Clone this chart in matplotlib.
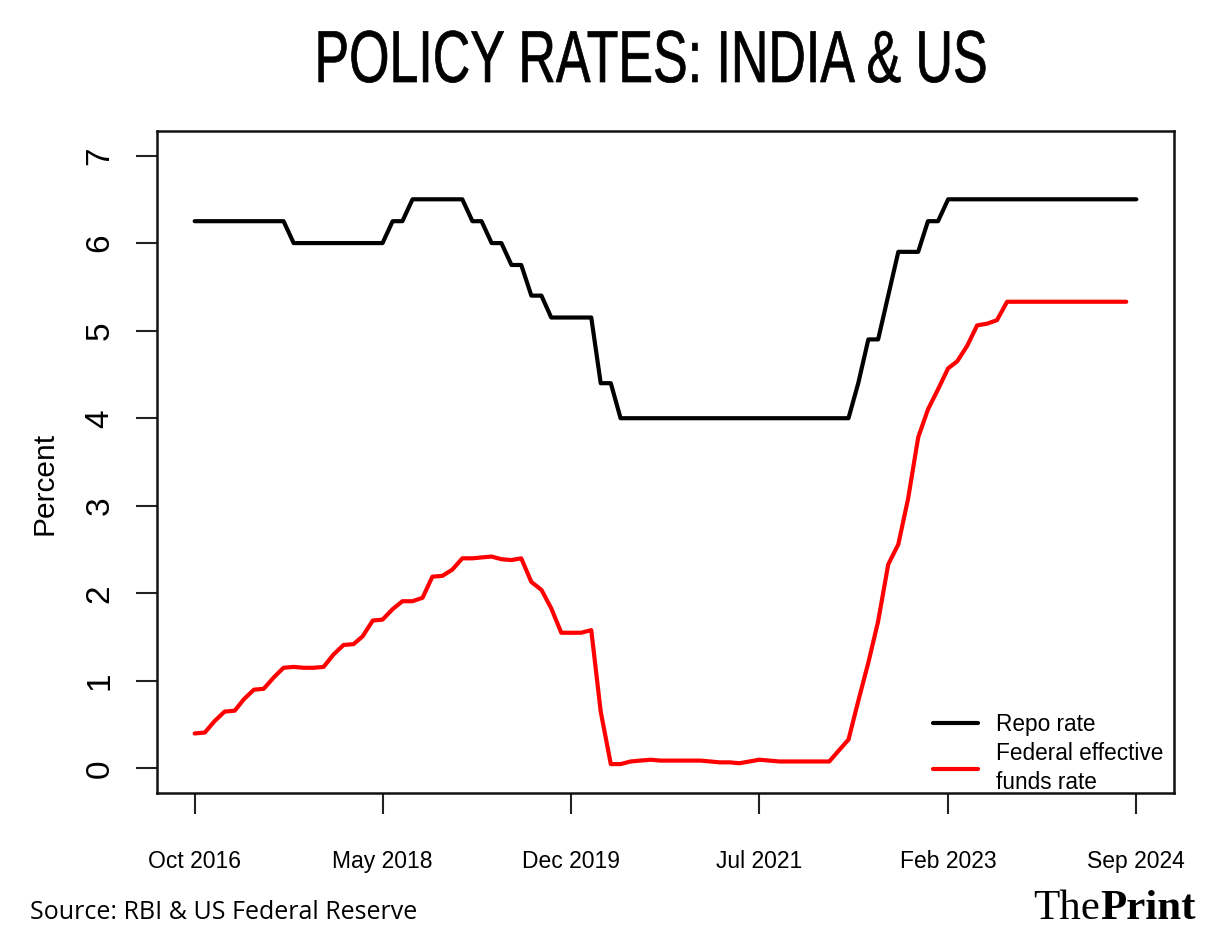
import numpy as np
import pandas as pd
import matplotlib
matplotlib.use("Agg")
import matplotlib.pyplot as plt
import matplotlib.dates as mdates
from matplotlib import font_manager
from matplotlib.patheffects import AbstractPathEffect
from matplotlib.transforms import Affine2D

# monthly values, Oct 2016 .. Sep 2024 (one row per calendar year)
repo_rate = (
    [6.25, 6.25, 6.25]
    + [6.25, 6.25, 6.25, 6.25, 6.25, 6.25, 6.25, 6.00, 6.00, 6.00, 6.00, 6.00]
    + [6.00, 6.00, 6.00, 6.00, 6.00, 6.25, 6.25, 6.50, 6.50, 6.50, 6.50, 6.50]
    + [6.50, 6.25, 6.25, 6.00, 6.00, 5.75, 5.75, 5.40, 5.40, 5.15, 5.15, 5.15]
    + [5.15, 5.15, 4.40, 4.40, 4.00, 4.00, 4.00, 4.00, 4.00, 4.00, 4.00, 4.00]
    + [4.00, 4.00, 4.00, 4.00, 4.00, 4.00, 4.00, 4.00, 4.00, 4.00, 4.00, 4.00]
    + [4.00, 4.00, 4.00, 4.00, 4.40, 4.90, 4.90, 5.40, 5.90, 5.90, 5.90, 6.25]
    + [6.25, 6.50, 6.50, 6.50, 6.50, 6.50, 6.50, 6.50, 6.50, 6.50, 6.50, 6.50]
    + [6.50, 6.50, 6.50, 6.50, 6.50, 6.50, 6.50, 6.50, 6.50]
)

# Oct 2016 .. Aug 2024
fed_rate = (
    [0.40, 0.41, 0.54]
    + [0.65, 0.66, 0.79, 0.90, 0.91, 1.04, 1.15, 1.16, 1.15, 1.15, 1.16, 1.30]
    + [1.41, 1.42, 1.51, 1.69, 1.70, 1.82, 1.91, 1.91, 1.95, 2.19, 2.20, 2.27]
    + [2.40, 2.40, 2.41, 2.42, 2.39, 2.38, 2.40, 2.13, 2.04, 1.83, 1.55, 1.55]
    + [1.55, 1.58, 0.65, 0.05, 0.05, 0.08, 0.09, 0.10, 0.09, 0.09, 0.09, 0.09]
    + [0.09, 0.08, 0.07, 0.07, 0.06, 0.08, 0.10, 0.09, 0.08, 0.08, 0.08, 0.08]
    + [0.08, 0.08, 0.20, 0.33, 0.77, 1.21, 1.68, 2.33, 2.56, 3.08, 3.78, 4.10]
    + [4.33, 4.57, 4.65, 4.83, 5.06, 5.08, 5.12, 5.33, 5.33, 5.33, 5.33, 5.33]
    + [5.33, 5.33, 5.33, 5.33, 5.33, 5.33, 5.33, 5.33]
)

months = pd.date_range("2016-10-01", periods=len(repo_rate), freq="MS")
tick_dates = pd.to_datetime(["2016-10-01", "2018-05-01", "2019-12-01",
                             "2021-07-01", "2023-02-01", "2024-09-01"])
tick_labels = ["Oct 2016", "May 2018", "Dec 2019", "Jul 2021", "Feb 2023", "Sep 2024"]
y_ticks = [0, 1, 2, 3, 4, 5, 6, 7]

series_names = ["Repo rate", "Federal effective\nfunds rate"]
series_colors = ["black", "#ff0000"]


def have_font(name):
    try:
        font_manager.findfont(font_manager.FontProperties(family=name),
                              fallback_to_default=False)
        return True
    except ValueError:
        return False


# squeezes drawn text horizontally around cx (display px), with a thin outline
class Squeeze(AbstractPathEffect):
    def __init__(self, sx, cx, stroke=0.0):
        super().__init__()
        self.sx = sx
        self.cx = cx
        self.stroke = stroke

    def draw_path(self, renderer, gc, tpath, affine, rgbFace=None):
        sq = Affine2D().translate(-self.cx, 0).scale(self.sx, 1).translate(self.cx, 0)
        gc0 = renderer.new_gc()
        gc0.copy_properties(gc)
        if self.stroke:
            gc0.set_linewidth(self.stroke)
            gc0.set_foreground(rgbFace)
        renderer.draw_path(gc0, tpath, affine + sq, rgbFace)
        gc0.restore()


plt.rcParams["font.family"] = "Liberation Sans"
W, H = 1218, 949
fig = plt.figure(figsize=(W / 100, H / 100), dpi=100)
ax = fig.add_axes([157 / W, 1 - 793 / H, (1174 - 157) / W, (793 - 131) / H])

ax.plot(months, repo_rate, color=series_colors[0], lw=3,
        solid_capstyle="round", label=series_names[0])
ax.plot(months[:len(fed_rate)], fed_rate, color=series_colors[1], lw=3,
        solid_capstyle="round", label=series_names[1])

# R-style 4% padding on x
x0, x1 = mdates.date2num(months[0]), mdates.date2num(months[-1])
pad = 0.04 * (x1 - x0)
ax.set_xlim(x0 - pad, x1 + pad)
ax.set_ylim(-0.28, 7.28)

ax.set_xticks(tick_dates)
ax.set_xticklabels(tick_labels)
ax.set_yticks(y_ticks)
ax.set_yticklabels([str(v) for v in y_ticks])

for sp in ax.spines.values():
    sp.set_linewidth(1.8)
    sp.set_color("#111111")
ax.tick_params(axis="both", direction="out", length=15, width=1.5, color="#222222")
ax.tick_params(axis="x", pad=26, labelsize=16.5)
ax.tick_params(axis="y", pad=15, labelsize=24, labelrotation=90)
for lab in ax.get_yticklabels():
    lab.set_va("center")

ax.set_ylabel("Percent", fontsize=21.5)
ax.yaxis.set_label_coords(-0.097, 0.467)

leg = ax.legend(loc="upper left", bbox_to_anchor=(0.763, 0.121), frameon=False,
                fontsize=16.3, handlelength=2, handletextpad=0.8, borderpad=0,
                borderaxespad=0, labelspacing=0.25)
for t in leg.get_texts():
    t.set_linespacing(1.38)

# title, source and logo
title_font = "Liberation Sans Narrow" if have_font("Liberation Sans Narrow") else "Liberation Sans"
title = fig.text(651 / W, 1 - 82 / H, "POLICY RATES: INDIA & US", ha="center",
                 va="baseline", fontsize=53, family=title_font)
fig.text(30 / W, 1 - 919 / H, "Source: RBI & US Federal Reserve", ha="left",
         va="baseline", fontsize=18, family=["Open Sans", "DejaVu Sans"])
brand = fig.text(1196 / W, 1 - 919 / H, "Print", ha="right", va="baseline",
                 fontsize=31, family="Liberation Serif", weight="bold")
ax.annotate("The", xy=(0, 0), xycoords=brand, ha="right", va="bottom",
            fontsize=31, family="Liberation Serif", annotation_clip=False)

fig.canvas.draw()
tw = title.get_window_extent().width
title.set_path_effects([Squeeze(673 / tw, 651, stroke=0.5)])

fig.savefig("out.png", dpi=100)
